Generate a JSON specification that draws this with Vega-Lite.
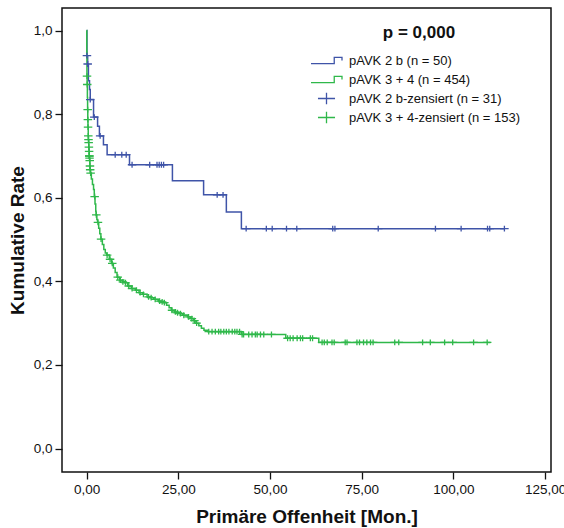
{
  "$schema": "https://vega.github.io/schema/vega-lite/v6.json",
  "width": 489,
  "height": 464,
  "autosize": {"type": "none"},
  "padding": {"left": 62, "top": 8, "right": 13, "bottom": 56},
  "background": "white",
  "config": {
    "font": "Liberation Sans",
    "view": {"stroke": "#111111", "strokeWidth": 1.5},
    "axis": {
      "domain": false,
      "grid": false,
      "tickColor": "#111111",
      "tickWidth": 1.3,
      "tickSize": 7,
      "labelColor": "#111111",
      "labelFontSize": 13.5,
      "labelPadding": 3,
      "titleColor": "#111111",
      "titleFontSize": 19,
      "titleFontWeight": "bold"
    }
  },
  "datasets": {
    "curves": [
      {"series": "pAVK 2 b (n = 50)", "t": 0, "s": 1.0},
      {"series": "pAVK 2 b (n = 50)", "t": 0.1, "s": 0.94},
      {"series": "pAVK 2 b (n = 50)", "t": 0.3, "s": 0.92},
      {"series": "pAVK 2 b (n = 50)", "t": 0.5, "s": 0.88},
      {"series": "pAVK 2 b (n = 50)", "t": 0.8, "s": 0.859},
      {"series": "pAVK 2 b (n = 50)", "t": 1.0, "s": 0.835},
      {"series": "pAVK 2 b (n = 50)", "t": 1.9, "s": 0.793},
      {"series": "pAVK 2 b (n = 50)", "t": 3.0, "s": 0.771},
      {"series": "pAVK 2 b (n = 50)", "t": 3.5, "s": 0.748},
      {"series": "pAVK 2 b (n = 50)", "t": 4.6, "s": 0.727},
      {"series": "pAVK 2 b (n = 50)", "t": 5.6, "s": 0.703},
      {"series": "pAVK 2 b (n = 50)", "t": 11.7, "s": 0.679},
      {"series": "pAVK 2 b (n = 50)", "t": 23.4, "s": 0.641},
      {"series": "pAVK 2 b (n = 50)", "t": 31.9, "s": 0.607},
      {"series": "pAVK 2 b (n = 50)", "t": 38.1, "s": 0.566},
      {"series": "pAVK 2 b (n = 50)", "t": 42.2, "s": 0.526},
      {"series": "pAVK 2 b (n = 50)", "t": 113.9, "s": 0.526},
      {"series": "pAVK 3 + 4 (n = 454)", "t": 0, "s": 1.0},
      {"series": "pAVK 3 + 4 (n = 454)", "t": 0.05, "s": 0.95},
      {"series": "pAVK 3 + 4 (n = 454)", "t": 0.1, "s": 0.891},
      {"series": "pAVK 3 + 4 (n = 454)", "t": 0.15, "s": 0.871},
      {"series": "pAVK 3 + 4 (n = 454)", "t": 0.22, "s": 0.84},
      {"series": "pAVK 3 + 4 (n = 454)", "t": 0.28, "s": 0.811},
      {"series": "pAVK 3 + 4 (n = 454)", "t": 0.33, "s": 0.787},
      {"series": "pAVK 3 + 4 (n = 454)", "t": 0.38, "s": 0.769},
      {"series": "pAVK 3 + 4 (n = 454)", "t": 0.45, "s": 0.748},
      {"series": "pAVK 3 + 4 (n = 454)", "t": 0.5, "s": 0.739},
      {"series": "pAVK 3 + 4 (n = 454)", "t": 0.55, "s": 0.732},
      {"series": "pAVK 3 + 4 (n = 454)", "t": 0.6, "s": 0.721},
      {"series": "pAVK 3 + 4 (n = 454)", "t": 0.66, "s": 0.711},
      {"series": "pAVK 3 + 4 (n = 454)", "t": 0.72, "s": 0.7},
      {"series": "pAVK 3 + 4 (n = 454)", "t": 0.78, "s": 0.695},
      {"series": "pAVK 3 + 4 (n = 454)", "t": 0.84, "s": 0.689},
      {"series": "pAVK 3 + 4 (n = 454)", "t": 0.9, "s": 0.676},
      {"series": "pAVK 3 + 4 (n = 454)", "t": 0.96, "s": 0.667},
      {"series": "pAVK 3 + 4 (n = 454)", "t": 1.05, "s": 0.659},
      {"series": "pAVK 3 + 4 (n = 454)", "t": 1.3, "s": 0.645},
      {"series": "pAVK 3 + 4 (n = 454)", "t": 1.6, "s": 0.632},
      {"series": "pAVK 3 + 4 (n = 454)", "t": 1.9, "s": 0.62},
      {"series": "pAVK 3 + 4 (n = 454)", "t": 2.1, "s": 0.603},
      {"series": "pAVK 3 + 4 (n = 454)", "t": 2.3, "s": 0.585},
      {"series": "pAVK 3 + 4 (n = 454)", "t": 2.5, "s": 0.568},
      {"series": "pAVK 3 + 4 (n = 454)", "t": 2.6, "s": 0.559},
      {"series": "pAVK 3 + 4 (n = 454)", "t": 2.8, "s": 0.548},
      {"series": "pAVK 3 + 4 (n = 454)", "t": 3.0, "s": 0.541},
      {"series": "pAVK 3 + 4 (n = 454)", "t": 3.3, "s": 0.527},
      {"series": "pAVK 3 + 4 (n = 454)", "t": 3.6, "s": 0.514},
      {"series": "pAVK 3 + 4 (n = 454)", "t": 3.9, "s": 0.501},
      {"series": "pAVK 3 + 4 (n = 454)", "t": 4.3, "s": 0.488},
      {"series": "pAVK 3 + 4 (n = 454)", "t": 4.7, "s": 0.476},
      {"series": "pAVK 3 + 4 (n = 454)", "t": 5.1, "s": 0.468},
      {"series": "pAVK 3 + 4 (n = 454)", "t": 5.5, "s": 0.463},
      {"series": "pAVK 3 + 4 (n = 454)", "t": 6.2, "s": 0.453},
      {"series": "pAVK 3 + 4 (n = 454)", "t": 6.8, "s": 0.443},
      {"series": "pAVK 3 + 4 (n = 454)", "t": 7.3, "s": 0.432},
      {"series": "pAVK 3 + 4 (n = 454)", "t": 7.8, "s": 0.421},
      {"series": "pAVK 3 + 4 (n = 454)", "t": 8.3, "s": 0.41},
      {"series": "pAVK 3 + 4 (n = 454)", "t": 9.0, "s": 0.403},
      {"series": "pAVK 3 + 4 (n = 454)", "t": 9.8, "s": 0.399},
      {"series": "pAVK 3 + 4 (n = 454)", "t": 10.4, "s": 0.397},
      {"series": "pAVK 3 + 4 (n = 454)", "t": 11.2, "s": 0.389},
      {"series": "pAVK 3 + 4 (n = 454)", "t": 12.2, "s": 0.383},
      {"series": "pAVK 3 + 4 (n = 454)", "t": 13.3, "s": 0.379},
      {"series": "pAVK 3 + 4 (n = 454)", "t": 14.3, "s": 0.373},
      {"series": "pAVK 3 + 4 (n = 454)", "t": 15.3, "s": 0.369},
      {"series": "pAVK 3 + 4 (n = 454)", "t": 16.5, "s": 0.363},
      {"series": "pAVK 3 + 4 (n = 454)", "t": 17.4, "s": 0.361},
      {"series": "pAVK 3 + 4 (n = 454)", "t": 18.3, "s": 0.357},
      {"series": "pAVK 3 + 4 (n = 454)", "t": 19.5, "s": 0.353},
      {"series": "pAVK 3 + 4 (n = 454)", "t": 20.4, "s": 0.351},
      {"series": "pAVK 3 + 4 (n = 454)", "t": 21.0, "s": 0.349},
      {"series": "pAVK 3 + 4 (n = 454)", "t": 21.8, "s": 0.343},
      {"series": "pAVK 3 + 4 (n = 454)", "t": 22.5, "s": 0.337},
      {"series": "pAVK 3 + 4 (n = 454)", "t": 23.1, "s": 0.331},
      {"series": "pAVK 3 + 4 (n = 454)", "t": 24.0, "s": 0.327},
      {"series": "pAVK 3 + 4 (n = 454)", "t": 24.6, "s": 0.325},
      {"series": "pAVK 3 + 4 (n = 454)", "t": 25.3, "s": 0.323},
      {"series": "pAVK 3 + 4 (n = 454)", "t": 26.2, "s": 0.319},
      {"series": "pAVK 3 + 4 (n = 454)", "t": 27.5, "s": 0.315},
      {"series": "pAVK 3 + 4 (n = 454)", "t": 28.4, "s": 0.311},
      {"series": "pAVK 3 + 4 (n = 454)", "t": 29.2, "s": 0.306},
      {"series": "pAVK 3 + 4 (n = 454)", "t": 29.8, "s": 0.3},
      {"series": "pAVK 3 + 4 (n = 454)", "t": 30.6, "s": 0.294},
      {"series": "pAVK 3 + 4 (n = 454)", "t": 31.3, "s": 0.288},
      {"series": "pAVK 3 + 4 (n = 454)", "t": 32.0, "s": 0.283},
      {"series": "pAVK 3 + 4 (n = 454)", "t": 33.0, "s": 0.28},
      {"series": "pAVK 3 + 4 (n = 454)", "t": 42.2, "s": 0.273},
      {"series": "pAVK 3 + 4 (n = 454)", "t": 54.3, "s": 0.264},
      {"series": "pAVK 3 + 4 (n = 454)", "t": 63.3, "s": 0.254},
      {"series": "pAVK 3 + 4 (n = 454)", "t": 110.1, "s": 0.254}
    ],
    "censored": [
      {"series": "pAVK 2 b-zensiert (n = 31)", "t": 0.1, "s": 0.94},
      {"series": "pAVK 2 b-zensiert (n = 31)", "t": 0.3, "s": 0.92},
      {"series": "pAVK 2 b-zensiert (n = 31)", "t": 1.0, "s": 0.835},
      {"series": "pAVK 2 b-zensiert (n = 31)", "t": 2.1, "s": 0.793},
      {"series": "pAVK 2 b-zensiert (n = 31)", "t": 3.7, "s": 0.748},
      {"series": "pAVK 2 b-zensiert (n = 31)", "t": 7.8, "s": 0.703},
      {"series": "pAVK 2 b-zensiert (n = 31)", "t": 9.6, "s": 0.703},
      {"series": "pAVK 2 b-zensiert (n = 31)", "t": 10.8, "s": 0.703},
      {"series": "pAVK 2 b-zensiert (n = 31)", "t": 12.4, "s": 0.679},
      {"series": "pAVK 2 b-zensiert (n = 31)", "t": 17.2, "s": 0.679},
      {"series": "pAVK 2 b-zensiert (n = 31)", "t": 19.2, "s": 0.679},
      {"series": "pAVK 2 b-zensiert (n = 31)", "t": 19.8, "s": 0.679},
      {"series": "pAVK 2 b-zensiert (n = 31)", "t": 20.4, "s": 0.679},
      {"series": "pAVK 2 b-zensiert (n = 31)", "t": 21.0, "s": 0.679},
      {"series": "pAVK 2 b-zensiert (n = 31)", "t": 35.6, "s": 0.607},
      {"series": "pAVK 2 b-zensiert (n = 31)", "t": 37.2, "s": 0.607},
      {"series": "pAVK 2 b-zensiert (n = 31)", "t": 43.5, "s": 0.526},
      {"series": "pAVK 2 b-zensiert (n = 31)", "t": 49.0, "s": 0.526},
      {"series": "pAVK 2 b-zensiert (n = 31)", "t": 50.6, "s": 0.526},
      {"series": "pAVK 2 b-zensiert (n = 31)", "t": 54.5, "s": 0.526},
      {"series": "pAVK 2 b-zensiert (n = 31)", "t": 57.3, "s": 0.526},
      {"series": "pAVK 2 b-zensiert (n = 31)", "t": 67.1, "s": 0.526},
      {"series": "pAVK 2 b-zensiert (n = 31)", "t": 67.7, "s": 0.526},
      {"series": "pAVK 2 b-zensiert (n = 31)", "t": 79.5, "s": 0.526},
      {"series": "pAVK 2 b-zensiert (n = 31)", "t": 95.1, "s": 0.526},
      {"series": "pAVK 2 b-zensiert (n = 31)", "t": 102.1, "s": 0.526},
      {"series": "pAVK 2 b-zensiert (n = 31)", "t": 109.3, "s": 0.526},
      {"series": "pAVK 2 b-zensiert (n = 31)", "t": 109.9, "s": 0.526},
      {"series": "pAVK 2 b-zensiert (n = 31)", "t": 113.9, "s": 0.526},
      {"series": "pAVK 3 + 4-zensiert (n = 153)", "t": 0.12, "s": 0.891},
      {"series": "pAVK 3 + 4-zensiert (n = 153)", "t": 0.18, "s": 0.871},
      {"series": "pAVK 3 + 4-zensiert (n = 153)", "t": 0.3, "s": 0.811},
      {"series": "pAVK 3 + 4-zensiert (n = 153)", "t": 0.35, "s": 0.787},
      {"series": "pAVK 3 + 4-zensiert (n = 153)", "t": 0.4, "s": 0.769},
      {"series": "pAVK 3 + 4-zensiert (n = 153)", "t": 0.47, "s": 0.748},
      {"series": "pAVK 3 + 4-zensiert (n = 153)", "t": 0.52, "s": 0.739},
      {"series": "pAVK 3 + 4-zensiert (n = 153)", "t": 0.57, "s": 0.732},
      {"series": "pAVK 3 + 4-zensiert (n = 153)", "t": 0.63, "s": 0.721},
      {"series": "pAVK 3 + 4-zensiert (n = 153)", "t": 0.69, "s": 0.711},
      {"series": "pAVK 3 + 4-zensiert (n = 153)", "t": 0.74, "s": 0.7},
      {"series": "pAVK 3 + 4-zensiert (n = 153)", "t": 0.76, "s": 0.7},
      {"series": "pAVK 3 + 4-zensiert (n = 153)", "t": 0.8, "s": 0.695},
      {"series": "pAVK 3 + 4-zensiert (n = 153)", "t": 0.86, "s": 0.689},
      {"series": "pAVK 3 + 4-zensiert (n = 153)", "t": 0.92, "s": 0.676},
      {"series": "pAVK 3 + 4-zensiert (n = 153)", "t": 0.98, "s": 0.667},
      {"series": "pAVK 3 + 4-zensiert (n = 153)", "t": 1.1, "s": 0.659},
      {"series": "pAVK 3 + 4-zensiert (n = 153)", "t": 2.2, "s": 0.603},
      {"series": "pAVK 3 + 4-zensiert (n = 153)", "t": 2.65, "s": 0.559},
      {"series": "pAVK 3 + 4-zensiert (n = 153)", "t": 3.1, "s": 0.541},
      {"series": "pAVK 3 + 4-zensiert (n = 153)", "t": 3.95, "s": 0.501},
      {"series": "pAVK 3 + 4-zensiert (n = 153)", "t": 5.6, "s": 0.463},
      {"series": "pAVK 3 + 4-zensiert (n = 153)", "t": 6.4, "s": 0.453},
      {"series": "pAVK 3 + 4-zensiert (n = 153)", "t": 7.0, "s": 0.443},
      {"series": "pAVK 3 + 4-zensiert (n = 153)", "t": 8.5, "s": 0.41},
      {"series": "pAVK 3 + 4-zensiert (n = 153)", "t": 9.2, "s": 0.403},
      {"series": "pAVK 3 + 4-zensiert (n = 153)", "t": 9.9, "s": 0.399},
      {"series": "pAVK 3 + 4-zensiert (n = 153)", "t": 10.6, "s": 0.397},
      {"series": "pAVK 3 + 4-zensiert (n = 153)", "t": 11.5, "s": 0.389},
      {"series": "pAVK 3 + 4-zensiert (n = 153)", "t": 12.4, "s": 0.383},
      {"series": "pAVK 3 + 4-zensiert (n = 153)", "t": 13.6, "s": 0.379},
      {"series": "pAVK 3 + 4-zensiert (n = 153)", "t": 14.6, "s": 0.373},
      {"series": "pAVK 3 + 4-zensiert (n = 153)", "t": 15.5, "s": 0.369},
      {"series": "pAVK 3 + 4-zensiert (n = 153)", "t": 16.9, "s": 0.363},
      {"series": "pAVK 3 + 4-zensiert (n = 153)", "t": 17.6, "s": 0.361},
      {"series": "pAVK 3 + 4-zensiert (n = 153)", "t": 18.7, "s": 0.357},
      {"series": "pAVK 3 + 4-zensiert (n = 153)", "t": 19.9, "s": 0.353},
      {"series": "pAVK 3 + 4-zensiert (n = 153)", "t": 20.6, "s": 0.351},
      {"series": "pAVK 3 + 4-zensiert (n = 153)", "t": 21.2, "s": 0.349},
      {"series": "pAVK 3 + 4-zensiert (n = 153)", "t": 23.3, "s": 0.331},
      {"series": "pAVK 3 + 4-zensiert (n = 153)", "t": 24.2, "s": 0.327},
      {"series": "pAVK 3 + 4-zensiert (n = 153)", "t": 24.8, "s": 0.325},
      {"series": "pAVK 3 + 4-zensiert (n = 153)", "t": 25.6, "s": 0.323},
      {"series": "pAVK 3 + 4-zensiert (n = 153)", "t": 26.5, "s": 0.319},
      {"series": "pAVK 3 + 4-zensiert (n = 153)", "t": 27.8, "s": 0.315},
      {"series": "pAVK 3 + 4-zensiert (n = 153)", "t": 28.7, "s": 0.311},
      {"series": "pAVK 3 + 4-zensiert (n = 153)", "t": 29.4, "s": 0.306},
      {"series": "pAVK 3 + 4-zensiert (n = 153)", "t": 30.0, "s": 0.3},
      {"series": "pAVK 3 + 4-zensiert (n = 153)", "t": 33.3, "s": 0.28},
      {"series": "pAVK 3 + 4-zensiert (n = 153)", "t": 34.2, "s": 0.28},
      {"series": "pAVK 3 + 4-zensiert (n = 153)", "t": 35.1, "s": 0.28},
      {"series": "pAVK 3 + 4-zensiert (n = 153)", "t": 36.0, "s": 0.28},
      {"series": "pAVK 3 + 4-zensiert (n = 153)", "t": 36.6, "s": 0.28},
      {"series": "pAVK 3 + 4-zensiert (n = 153)", "t": 37.4, "s": 0.28},
      {"series": "pAVK 3 + 4-zensiert (n = 153)", "t": 38.1, "s": 0.28},
      {"series": "pAVK 3 + 4-zensiert (n = 153)", "t": 38.8, "s": 0.28},
      {"series": "pAVK 3 + 4-zensiert (n = 153)", "t": 39.7, "s": 0.28},
      {"series": "pAVK 3 + 4-zensiert (n = 153)", "t": 40.4, "s": 0.28},
      {"series": "pAVK 3 + 4-zensiert (n = 153)", "t": 41.0, "s": 0.28},
      {"series": "pAVK 3 + 4-zensiert (n = 153)", "t": 41.7, "s": 0.28},
      {"series": "pAVK 3 + 4-zensiert (n = 153)", "t": 42.4, "s": 0.273},
      {"series": "pAVK 3 + 4-zensiert (n = 153)", "t": 42.8, "s": 0.273},
      {"series": "pAVK 3 + 4-zensiert (n = 153)", "t": 44.2, "s": 0.273},
      {"series": "pAVK 3 + 4-zensiert (n = 153)", "t": 45.1, "s": 0.273},
      {"series": "pAVK 3 + 4-zensiert (n = 153)", "t": 46.0, "s": 0.273},
      {"series": "pAVK 3 + 4-zensiert (n = 153)", "t": 46.5, "s": 0.273},
      {"series": "pAVK 3 + 4-zensiert (n = 153)", "t": 47.4, "s": 0.273},
      {"series": "pAVK 3 + 4-zensiert (n = 153)", "t": 48.3, "s": 0.273},
      {"series": "pAVK 3 + 4-zensiert (n = 153)", "t": 50.4, "s": 0.273},
      {"series": "pAVK 3 + 4-zensiert (n = 153)", "t": 54.8, "s": 0.264},
      {"series": "pAVK 3 + 4-zensiert (n = 153)", "t": 55.5, "s": 0.264},
      {"series": "pAVK 3 + 4-zensiert (n = 153)", "t": 56.3, "s": 0.264},
      {"series": "pAVK 3 + 4-zensiert (n = 153)", "t": 57.4, "s": 0.264},
      {"series": "pAVK 3 + 4-zensiert (n = 153)", "t": 58.3, "s": 0.264},
      {"series": "pAVK 3 + 4-zensiert (n = 153)", "t": 58.9, "s": 0.264},
      {"series": "pAVK 3 + 4-zensiert (n = 153)", "t": 61.0, "s": 0.264},
      {"series": "pAVK 3 + 4-zensiert (n = 153)", "t": 61.6, "s": 0.264},
      {"series": "pAVK 3 + 4-zensiert (n = 153)", "t": 64.2, "s": 0.254},
      {"series": "pAVK 3 + 4-zensiert (n = 153)", "t": 64.8, "s": 0.254},
      {"series": "pAVK 3 + 4-zensiert (n = 153)", "t": 65.6, "s": 0.254},
      {"series": "pAVK 3 + 4-zensiert (n = 153)", "t": 66.9, "s": 0.254},
      {"series": "pAVK 3 + 4-zensiert (n = 153)", "t": 67.5, "s": 0.254},
      {"series": "pAVK 3 + 4-zensiert (n = 153)", "t": 70.5, "s": 0.254},
      {"series": "pAVK 3 + 4-zensiert (n = 153)", "t": 71.0, "s": 0.254},
      {"series": "pAVK 3 + 4-zensiert (n = 153)", "t": 73.7, "s": 0.254},
      {"series": "pAVK 3 + 4-zensiert (n = 153)", "t": 74.4, "s": 0.254},
      {"series": "pAVK 3 + 4-zensiert (n = 153)", "t": 75.5, "s": 0.254},
      {"series": "pAVK 3 + 4-zensiert (n = 153)", "t": 76.4, "s": 0.254},
      {"series": "pAVK 3 + 4-zensiert (n = 153)", "t": 77.4, "s": 0.254},
      {"series": "pAVK 3 + 4-zensiert (n = 153)", "t": 78.1, "s": 0.254},
      {"series": "pAVK 3 + 4-zensiert (n = 153)", "t": 84.0, "s": 0.254},
      {"series": "pAVK 3 + 4-zensiert (n = 153)", "t": 85.1, "s": 0.254},
      {"series": "pAVK 3 + 4-zensiert (n = 153)", "t": 91.6, "s": 0.254},
      {"series": "pAVK 3 + 4-zensiert (n = 153)", "t": 93.7, "s": 0.254},
      {"series": "pAVK 3 + 4-zensiert (n = 153)", "t": 97.6, "s": 0.254},
      {"series": "pAVK 3 + 4-zensiert (n = 153)", "t": 99.8, "s": 0.254},
      {"series": "pAVK 3 + 4-zensiert (n = 153)", "t": 105.5, "s": 0.254},
      {"series": "pAVK 3 + 4-zensiert (n = 153)", "t": 109.2, "s": 0.254}
    ]
  },
  "encoding": {
    "x": {
      "field": "t",
      "type": "quantitative",
      "scale": {"domain": [-6.7, 126.6], "nice": false, "zero": false},
      "axis": {
        "title": "Primäre Offenheit [Mon.]",
        "values": [0, 25, 50, 75, 100, 125],
        "labelExpr": "replace(format(datum.value, '.2f'), '.', ',')",
        "titlePadding": 12
      }
    },
    "y": {
      "field": "s",
      "type": "quantitative",
      "scale": {"domain": [-0.056, 1.054], "nice": false, "zero": false},
      "axis": {
        "title": "Kumulative Rate",
        "values": [0, 0.2, 0.4, 0.6, 0.8, 1.0],
        "labelExpr": "replace(format(datum.value, '.1f'), '.', ',')",
        "titlePadding": 6
      }
    },
    "color": {
      "field": "series",
      "type": "nominal",
      "scale": {
        "domain": ["pAVK 2 b (n = 50)", "pAVK 3 + 4 (n = 454)", "pAVK 2 b-zensiert (n = 31)", "pAVK 3 + 4-zensiert (n = 153)"],
        "range": ["#3f54a8", "#2fb84a", "#3f54a8", "#2fb84a"]
      },
      "legend": {
        "title": "p = 0,000",
        "orient": "none",
        "legendX": 256,
        "legendY": 17,
        "titleFontSize": 17,
        "titleFontWeight": "bold",
        "titleColor": "#111111",
        "titleAnchor": "middle",
        "titlePadding": 10,
        "labelFontSize": 13,
        "labelColor": "#111111",
        "labelLimit": 300,
        "labelOffset": 14,
        "symbolSize": 240,
        "symbolStrokeWidth": 1.3,
        "rowPadding": 2
      }
    }
  },
  "layer": [
    {
      "data": {"name": "curves"},
      "mark": {"type": "line", "interpolate": "step-after", "strokeWidth": 1.5}
    },
    {
      "data": {"name": "censored"},
      "mark": {"type": "point", "filled": false, "strokeWidth": 1.3, "size": 60, "opacity": 1},
      "encoding": {
        "shape": {
          "field": "series",
          "type": "nominal",
          "scale": {
            "domain": ["pAVK 2 b (n = 50)", "pAVK 3 + 4 (n = 454)", "pAVK 2 b-zensiert (n = 31)", "pAVK 3 + 4-zensiert (n = 153)"],
            "range": ["M0,-0.75M0,0.75M-2,0.4L1,0.4L1,-0.4L2,-0.4L2,0", "M0,-0.75M0,0.75M-2,0.4L1,0.4L1,-0.4L2,-0.4L2,0", "M-1.1,0L1.1,0M0,-0.75L0,0.75", "M-1.1,0L1.1,0M0,-0.75L0,0.75"]
          },
          "legend": {
            "title": "p = 0,000"
          }
        }
      }
    }
  ]
}
